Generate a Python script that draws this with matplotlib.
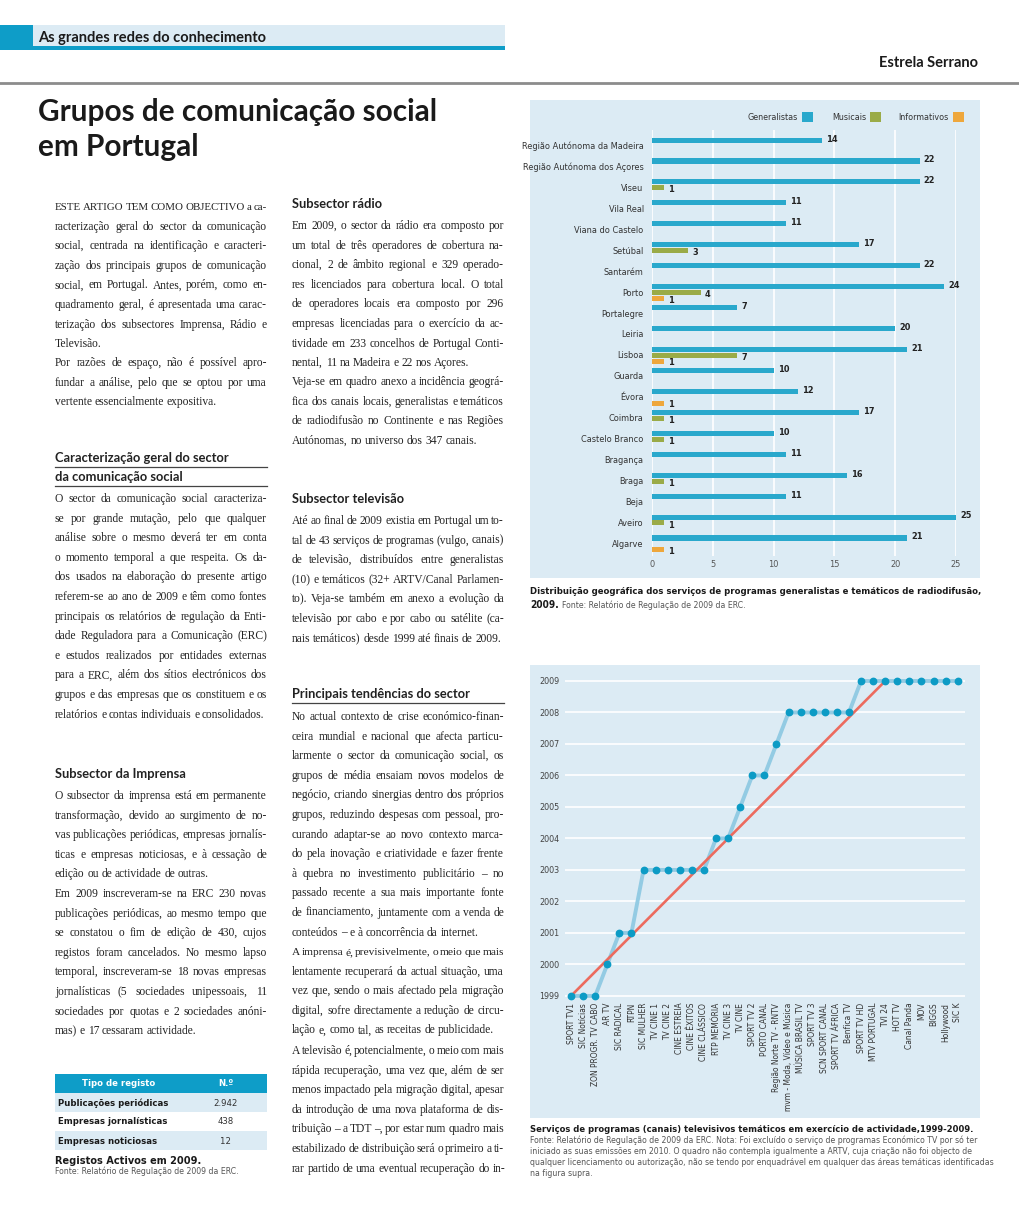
import matplotlib
matplotlib.use("Agg")
import matplotlib.pyplot as plt
from matplotlib.patches import Rectangle

W, H, DPI = 1020, 1228, 100

# bar chart: local radio services per region
regions = ["Região Autónoma da Madeira", "Região Autónoma dos Açores", "Viseu", "Vila Real",
           "Viana do Castelo", "Setúbal", "Santarém", "Porto", "Portalegre", "Leiria", "Lisboa",
           "Guarda", "Évora", "Coimbra", "Castelo Branco", "Bragança", "Braga", "Beja",
           "Aveiro", "Algarve"]
generalistas = [14, 22, 22, 11, 11, 17, 22, 24, 7, 20, 21, 10, 12, 17, 10, 11, 16, 11, 25, 21]
musicais = [0, 0, 1, 0, 0, 3, 0, 4, 0, 0, 7, 0, 0, 1, 1, 0, 1, 0, 1, 0]
informativos = [0, 0, 0, 0, 0, 0, 0, 1, 0, 0, 1, 0, 1, 0, 0, 0, 0, 0, 0, 1]
bar_ticks = [0, 5, 10, 15, 20, 25]

# line chart: thematic tv channels, year they started
channels = ["SPORT TV1", "SIC Notícias", "ZON PROGR. TV CABO", "AR TV", "SIC RADICAL", "RTPN",
            "SIC MULHER", "TV CINE 1", "TV CINE 2", "CINE ESTREIA", "CINE ÊXITOS",
            "CINE CLÁSSICO", "RTP MEMÓRIA", "TV CINE 3", "TV CINE", "SPORT TV 2",
            "PORTO CANAL", "Região Norte TV - RNTV", "mvm - Moda, Vídeo e Música",
            "MÚSICA BRASIL TV", "SPORT TV 3", "SCN SPORT CANAL", "SPORT TV ÁFRICA",
            "Benfica TV", "SPORT TV HD", "MTV PORTUGAL", "TVI 24", "HOT TV", "Canal Panda",
            "MOV", "BIGGS", "Hollywood", "SIC K"]
start_year = [1999, 1999, 1999, 2000, 2001, 2001, 2003, 2003, 2003, 2003, 2003, 2003,
              2004, 2004, 2005, 2006, 2006, 2007, 2008, 2008, 2008, 2008, 2008, 2008,
              2009, 2009, 2009, 2009, 2009, 2009, 2009, 2009, 2009]
years = list(range(1999, 2010))
trend_idx = [0, 26]
trend_year = [1999, 2009]

# table
reg_types = ["Publicações periódicas", "Empresas jornalísticas", "Empresas noticiosas"]
reg_counts = ["2.942", "438", "12"]

BLUE = "#29a8cc"
GREEN = "#9aab47"
ORANGE = "#eea73c"
PANEL = "#dcebf4"
DARK = "#0e9dc8"

SERIF = "Liberation Serif"
HEAD = "Lato"
COND = dict(family="DejaVu Sans", fontstretch="condensed")

fig = plt.figure(figsize=(W / DPI, H / DPI), dpi=DPI)
page = fig.add_axes([0, 0, 1, 1])
page.set_xlim(0, W)
page.set_ylim(H, 0)
page.axis("off")
renderer = fig.canvas.get_renderer()


def px_axes(x0, y0, x1, y1):
    return fig.add_axes([x0 / W, 1 - y1 / H, (x1 - x0) / W, (y1 - y0) / H])


def width_of(s, **kw):
    t = page.text(0, 0, s, **kw)
    w = t.get_window_extent(renderer).width
    t.remove()
    return w


def paragraph(x, y, lines, width=212, step=19.6, size=8.3):
    # justified lines, last one flush left
    for k, line in enumerate(lines):
        yy = y + k * step + 4
        words = line.split()
        fs = size
        ws = [width_of(w, family=SERIF, fontsize=fs) for w in words]
        while sum(ws) + 1.7 * (len(words) - 1) > width and fs > 6:
            fs -= 0.1
            ws = [width_of(w, family=SERIF, fontsize=fs) for w in words]
        if k == len(lines) - 1:
            gap = 2.7 * fs / size
        else:
            gap = (width - sum(ws)) / max(len(words) - 1, 1)
        xx = x
        for w, wd in zip(words, ws):
            page.text(xx, yy, w, family=SERIF, fontsize=fs, color="#222222", va="baseline")
            xx += wd + gap
    return y + len(lines) * step


def heading(x, y, s, underline=None):
    page.text(x, y + 4, s, family=HEAD, fontweight="bold", fontsize=9.3, color="#222222",
              va="baseline")
    if underline:
        page.plot([x, x + underline], [y + 9, y + 9], color="#444444", lw=0.9)


# ---------------- page header
page.add_patch(Rectangle((0, 25), 33, 25, color=DARK, lw=0))
page.add_patch(Rectangle((33, 25), 472, 21, color=PANEL, lw=0))
page.add_patch(Rectangle((33, 46), 472, 4, color=DARK, lw=0))
page.text(38, 42, "As grandes redes do conhecimento", family=HEAD, fontweight="bold",
          fontsize=10.5, color="#1a1a1a", va="baseline")
page.text(978, 67, "Estrela Serrano", family=HEAD, fontweight="bold", fontsize=10.5,
          color="#1a1a1a", ha="right", va="baseline")
page.plot([0, W], [83, 83], color="#8c8c8c", lw=2)
page.text(38, 121, "Grupos de comunicação social", family=HEAD, fontweight="bold",
          fontsize=21.4, color="#1a1a1a", va="baseline")
page.text(38, 156, "em Portugal", family=HEAD, fontweight="bold", fontsize=21.4,
          color="#1a1a1a", va="baseline")

# ---------------- column 1
paragraph(55, 206, [
    "ESTE ARTIGO TEM COMO OBJECTIVO a ca-",
    "racterização geral do sector da comunicação",
    "social, centrada na identificação e caracteri-",
    "zação dos principais grupos de comunicação",
    "social, em Portugal. Antes, porém, como en-",
    "quadramento geral, é apresentada uma carac-",
    "terização dos subsectores Imprensa, Rádio e",
    "Televisão."])
paragraph(55, 362, [
    "Por razões de espaço, não é possível apro-",
    "fundar a análise, pelo que se optou por uma",
    "vertente essencialmente expositiva."])
heading(55, 458, "Caracterização geral do sector", underline=212)
heading(55, 477, "da comunicação social", underline=212)
paragraph(55, 498, [
    "O sector da comunicação social caracteriza-",
    "se por grande mutação, pelo que qualquer",
    "análise sobre o mesmo deverá ter em conta",
    "o momento temporal a que respeita. Os da-",
    "dos usados na elaboração do presente artigo",
    "referem-se ao ano de 2009 e têm como fontes",
    "principais os relatórios de regulação da Enti-",
    "dade Reguladora para a Comunicação (ERC)",
    "e estudos realizados por entidades externas",
    "para a ERC, além dos sítios electrónicos dos",
    "grupos e das empresas que os constituem e os",
    "relatórios e contas individuais e consolidados."])
heading(55, 774, "Subsector da Imprensa")
paragraph(55, 795, [
    "O subsector da imprensa está em permanente",
    "transformação, devido ao surgimento de no-",
    "vas publicações periódicas, empresas jornalís-",
    "ticas e empresas noticiosas, e à cessação de",
    "edição ou de actividade de outras."])
paragraph(55, 893, [
    "Em 2009 inscreveram-se na ERC 230 novas",
    "publicações periódicas, ao mesmo tempo que",
    "se constatou o fim de edição de 430, cujos",
    "registos foram cancelados. No mesmo lapso",
    "temporal, inscreveram-se 18 novas empresas",
    "jornalísticas (5 sociedades unipessoais, 11",
    "sociedades por quotas e 2 sociedades anóni-",
    "mas) e 17 cessaram actividade."])

# table
page.add_patch(Rectangle((55, 1074), 212, 19, color=DARK, lw=0))
page.text(119, 1084, "Tipo de registo", color="white", fontsize=6.8, fontweight="bold",
          ha="center", va="center", **COND)
page.text(226, 1084, "N.º", color="white", fontsize=6.8, fontweight="bold",
          ha="center", va="center", **COND)
for k, (name, n) in enumerate(zip(reg_types, reg_counts)):
    top = 1093 + 19 * k
    if k % 2 == 0:
        page.add_patch(Rectangle((55, top), 212, 19, color=PANEL, lw=0))
    page.text(58, top + 10, name, color="#1a1a1a", fontsize=6.8, fontweight="bold",
              va="center", **COND)
    page.text(226, top + 10, n, color="#333333", fontsize=6.8, ha="center", va="center", **COND)
page.text(55, 1164, "Registos Activos em 2009.", fontweight="bold",
          fontsize=7.8, color="#1a1a1a", va="baseline", **COND)
page.text(55, 1174, "Fonte: Relatório de Regulação de 2009 da ERC.", family="DejaVu Sans",
          fontsize=5.6, color="#555555", va="baseline")

# ---------------- column 2
heading(292, 204, "Subsector rádio")
paragraph(292, 225, [
    "Em 2009, o sector da rádio era composto por",
    "um total de três operadores de cobertura na-",
    "cional, 2 de âmbito regional e 329 operado-",
    "res licenciados para cobertura local. O total",
    "de operadores locais era composto por 296",
    "empresas licenciadas para o exercício da ac-",
    "tividade em 233 concelhos de Portugal Conti-",
    "nental, 11 na Madeira e 22 nos Açores."])
paragraph(292, 381, [
    "Veja-se em quadro anexo a incidência geográ-",
    "fica dos canais locais, generalistas e temáticos",
    "de radiodifusão no Continente e nas Regiões",
    "Autónomas, no universo dos 347 canais."])
heading(292, 499, "Subsector televisão")
paragraph(292, 520, [
    "Até ao final de 2009 existia em Portugal um to-",
    "tal de 43 serviços de programas (vulgo, canais)",
    "de televisão, distribuídos entre generalistas",
    "(10) e temáticos (32+ ARTV/Canal Parlamen-",
    "to). Veja-se também em anexo a evolução da",
    "televisão por cabo e por cabo ou satélite (ca-",
    "nais temáticos) desde 1999 até finais de 2009."])
heading(292, 694, "Principais tendências do sector", underline=212)
paragraph(292, 716, [
    "No actual contexto de crise económico-finan-",
    "ceira mundial e nacional que afecta particu-",
    "larmente o sector da comunicação social, os",
    "grupos de média ensaiam novos modelos de",
    "negócio, criando sinergias dentro dos próprios",
    "grupos, reduzindo despesas com pessoal, pro-",
    "curando adaptar-se ao novo contexto marca-",
    "do pela inovação e criatividade e fazer frente",
    "à quebra no investimento publicitário – no",
    "passado recente a sua mais importante fonte",
    "de financiamento, juntamente com a venda de",
    "conteúdos – e à concorrência da internet."])
paragraph(292, 951, [
    "A imprensa é, previsivelmente, o meio que mais",
    "lentamente recuperará da actual situação, uma",
    "vez que, sendo o mais afectado pela migração",
    "digital, sofre directamente a redução de circu-",
    "lação e, como tal, as receitas de publicidade."])
paragraph(292, 1050, [
    "A televisão é, potencialmente, o meio com mais",
    "rápida recuperação, uma vez que, além de ser",
    "menos impactado pela migração digital, apesar",
    "da introdução de uma nova plataforma de dis-",
    "tribuição – a TDT –, por estar num quadro mais",
    "estabilizado de distribuição será o primeiro a ti-",
    "rar partido de uma eventual recuperação do in-",
    "-"][:-1])

# ---------------- bar chart
page.add_patch(Rectangle((530, 100), 450, 478, color=PANEL, lw=0))
ax = px_axes(652, 130, 956, 556)
ax.set_facecolor("none")
pos = list(range(len(regions)))
hb = 0.24
ax.barh([p - 0.28 for p in pos], generalistas, height=hb, color=BLUE, zorder=3)
ax.barh([p for p in pos], musicais, height=hb, color=GREEN, zorder=3)
ax.barh([p + 0.28 for p in pos], informativos, height=hb, color=ORANGE, zorder=3)
for p, g, m, i in zip(pos, generalistas, musicais, informativos):
    ax.text(g + 0.35, p - 0.33, str(g), fontsize=6.6, fontweight="bold", color="#222222",
            va="center", **COND)
    if m:
        ax.text(m + 0.35, p + 0.1, str(m), fontsize=6.6, fontweight="bold", color="#222222",
                va="center", **COND)
    if i:
        ax.text(i + 0.35, p + 0.36, str(i), fontsize=6.6, fontweight="bold", color="#222222",
                va="center", **COND)
ax.set_xlim(0, 25)
ax.set_ylim(19.58, -0.76)
ax.set_xticks(bar_ticks)
ax.set_yticks([p - 0.02 for p in pos])
ax.set_yticklabels(regions)
ax.grid(axis="x", color="white", lw=1.2, zorder=0)
ax.tick_params(length=0, pad=6, labelsize=6.6, labelcolor="#333333")
for lab in ax.get_xticklabels() + ax.get_yticklabels():
    lab.set_fontstretch("condensed")
ax.tick_params(axis="x", pad=3, labelcolor="#555555")
for s in ax.spines.values():
    s.set_visible(False)

# legend
for label, col, xs in [("Generalistas", BLUE, 802), ("Musicais", GREEN, 870),
                       ("Informativos", ORANGE, 953)]:
    page.add_patch(Rectangle((xs, 112), 11, 10, color=col, lw=0))
    page.text(xs - 4, 117, label, fontsize=6.4, color="#333333", ha="right", va="center",
              **COND)

page.text(530, 594, "Distribuição geográfica dos serviços de programas generalistas e "
          "temáticos de radiodifusão,", fontsize=6.8, fontweight="bold", color="#1a1a1a",
          va="baseline", **COND)
page.text(530, 608, "2009.", fontsize=7.3, fontweight="bold", color="#1a1a1a",
          va="baseline", **COND)
w09 = width_of("2009. ", fontsize=7.3, fontweight="bold", **COND)
page.text(530 + w09, 608, "Fonte: Relatório de Regulação de 2009 da ERC.", fontsize=5.6,
          color="#555555", va="baseline", family="DejaVu Sans")

# ---------------- line chart
page.add_patch(Rectangle((530, 665), 450, 453, color=PANEL, lw=0))
lx = px_axes(565, 675, 965, 1000)
lx.set_facecolor("none")
idx = list(range(len(channels)))
lx.plot(idx, start_year, color="#93cbe3", lw=2.8, zorder=3, solid_capstyle="round")
lx.plot(idx, start_year, "o", color="#0c9bc5", ms=4.6, zorder=5)
lx.plot(trend_idx, trend_year, color="#ec6b5e", lw=1.9, zorder=4, solid_capstyle="round")
lx.set_xlim(-0.5, 32.6)
lx.set_ylim(1998.87, 2009.19)
lx.set_yticks(years)
lx.set_yticklabels([str(y) for y in years])
lx.set_xticks(idx)
lx.set_xticklabels(channels, rotation=90, ha="center", va="top")
lx.grid(axis="y", color="white", lw=1.2, zorder=0)
lx.tick_params(length=0, labelsize=6.0, labelcolor="#333333")
lx.tick_params(axis="y", pad=4, labelsize=6.4, labelcolor="#444444")
lx.tick_params(axis="x", pad=2)
for lab in lx.get_xticklabels() + lx.get_yticklabels():
    lab.set_fontstretch("condensed")
for s in lx.spines.values():
    s.set_visible(False)

page.text(530, 1132, "Serviços de programas (canais) televisivos temáticos em exercício "
          "de actividade,1999-2009.", fontsize=6.75, fontweight="bold", color="#1a1a1a",
          va="baseline", **COND)
note = ["Fonte: Relatório de Regulação de 2009 da ERC. Nota: Foi excluído o serviço de "
        "programas Económico TV por só ter",
        "iniciado as suas emissões em 2010. O quadro não contempla igualmente a ARTV, cuja "
        "criação não foi objecto de",
        "qualquer licenciamento ou autorização, não se tendo por enquadrável em qualquer das "
        "áreas temáticas identificadas",
        "na figura supra."]
for k, line in enumerate(note):
    page.text(530, 1143 + 11 * k, line, fontsize=5.6, color="#555555", va="baseline",
              family="DejaVu Sans")

fig.savefig("out.png", dpi=DPI, facecolor="white")
